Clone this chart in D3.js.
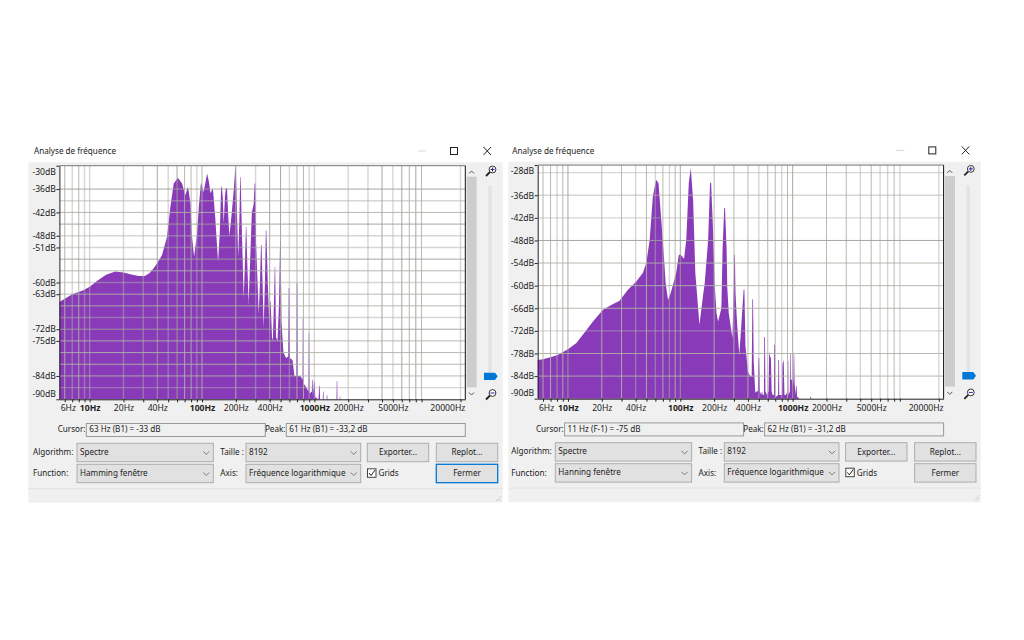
<!DOCTYPE html>
<html>
<head>
<meta charset="utf-8">
<title>Analyse de fréquence</title>
<script src="https://cdn.jsdelivr.net/npm/d3@7"></script>
<style>
  body { margin: 0; background: #fff; }
  text { font-family: "Noto Sans", sans-serif; font-size: 8.15px; fill: #222; }
  .axis path, .axis line { stroke: #222; }
</style>
</head>
<body>
<div id="chart"></div>
<script>
// Spectres : [Hz, dB]
const leftSpectrum = [
  [5.38,-65],[7,-63],[8.8,-62],[10,-61.1],[11.6,-59.6],[14,-58],[16.9,-57.2],[20,-57.4],[24,-58],[27.3,-58.3],
  [31,-58.3],[34,-57.6],[37,-56.4],[40,-55],[44,-53],[46,-51],[48.8,-48.3],[52.3,-40.6],[56,-34.6],[61,-33.1],
  [66.5,-34.6],[71,-37.6],[75,-35.4],[79,-39.7],[81,-47.4],[85,-53.4],[90,-48],[94,-40],[98,-34.2],[103,-36.8],
  [107,-34.5],[111,-32],[115,-34],[119,-37.1],[125,-35.8],[131,-43.1],[135,-49],[139,-54.7],[144,-47],[148,-35.4],[150,-35.4],
  [153,-38],[156,-44.8],[160,-38],[163,-35.8],[167,-35.8],[170,-41],[175,-48],[180,-45],[185,-41.4],[192,-36],[198,-30.3],[200,-30.3],
  [204,-40],[210,-53.4],[215,-44],[219,-32.9],[221,-32.9],[226,-46],[235,-64],[241,-55],[246,-45.7],[248,-45.7],[253,-55],[260,-65.5],
  [270,-52],[278,-41.8],[288,-40],[294,-34.6],[298,-34.6],[303,-50],[320,-68],[328,-60],[335,-50.4],[339,-50.4],[346,-60],[354,-71.7],
  [363,-60],[370,-46.6],[374,-46.6],[385,-60],[400,-73],[404,-64.9],[408,-64.9],[420,-74],[427,-75],[436,-66],[444,-56],[448,-56],[456,-74],
  [470,-75],[485,-65],[495,-49.4],[501,-49.4],[510,-70],[530,-78],[560,-79.4],[585,-79],[591,-61.4],[599,-61.4],[606,-79.4],[640,-80],[665,-84],
  [690,-84],[696,-60.2],[706,-60.2],[712,-84],[750,-84],[785,-85],[789,-69.1],[797,-69.1],[802,-86],[850,-87],[885,-88],[891,-73],[901,-73],
  [907,-88.5],[950,-88],[955,-85],[965,-85],[970,-89],[995,-85.4],[1005,-85.4],[1020,-89.5],[1090,-90],[1102,-86.5],[1114,-86.5],[1125,-90],[1190,-90],
  [1194,-88],[1206,-88],[1212,-90],[1285,-90],[1290,-88.9],[1302,-88.9],[1308,-90],[1575,-90],[1582,-85.3],[1598,-85.3],[1605,-90],[1680,-90],[1686,-89.3],[1698,-89.3],
  [1704,-90],[22050,-90]
];
const rightSpectrum = [
  [5.38,-79.7],[6,-79.5],[7.1,-78.9],[8.1,-78.4],[10,-76.9],[11.9,-75.2],[14,-72.5],[16.7,-69.5],[20.5,-66.4],[24.3,-65.1],
  [28.8,-64],[34.2,-61.1],[40.6,-58.9],[46.5,-56.6],[49.8,-54],[53.4,-47.8],[57,-36.3],[61,-31.9],[64,-32.8],[67.7,-42.5],
  [71.5,-52.3],[74,-59.3],[77.7,-63.8],[82,-62],[86,-59.8],[92,-56.6],[97,-51.8],[101,-51.8],[108,-52.9],[113,-47.8],
  [119,-32.7],[124,-28.8],[130,-37.2],[136,-56.6],[148,-70.4],[159,-62.9],[165,-59.3],[177,-47.8],[184,-32.7],[188,-32.7],[195,-44.3],
  [202,-59.3],[210,-67.3],[217,-69.5],[232,-66],[238,-50],[246,-39.4],[250,-39.4],[258,-50],[262,-60.6],[270,-67.3],[291,-73.9],
  [299,-60],[302,-51.8],[306,-51.8],[310,-62],[320,-70],[335,-78.4],[350,-70],[366,-61.1],[372,-61.1],[380,-76],[400,-82.8],[420,-84.1],
  [432,-84],[438,-63.6],[444,-63.6],[450,-80],[465,-88.4],[480,-88],[490,-88],[496,-79.2],[504,-79.2],[510,-88],[525,-89],[533,-88],
  [543,-89],[555,-89],[559,-73.6],[567,-73.6],[572,-88],[590,-89],[610,-88],[618,-77.5],[631,-79],[640,-79],[650,-88],
  [663,-89],[681,-89],[686,-75.7],[696,-75.7],[700,-89],[710,-89.5],[742,-89],[746,-79.7],[756,-79.7],[760,-89],[787,-89],[806,-89],
  [811,-81],[832,-79.7],[845,-89],[870,-89],[900,-88],[904,-80],[914,-80],[918,-89],[945,-88],[948,-78.1],[958,-78.1],[962,-85],
  [990,-85],[1000,-87],[1015,-85],[1022,-78.1],[1032,-78.1],[1040,-86],[1065,-89],[1072,-86.6],[1084,-86.6],[1095,-89.5],[1131,-89.8],[1160,-90],
  [1430,-90],[1440,-89.5],[1455,-89.5],[1465,-90],[22050,-90]
];

// Axes
const xTicks = [6, 10, 20, 40, 100, 200, 400, 1000, 2000, 5000, 20000];
const boldHz = [10, 100, 1000];
const gridHz = [6,7,8,9,10,20,30,40,50,60,70,80,90,100,200,300,400,500,600,700,800,900,
  1000,2000,3000,4000,5000,6000,7000,8000,9000,20000];
const leftDbTicks = [-30,-36,-42,-48,-51,-60,-63,-72,-75,-84,-90];
const rightDbTicks = [-28,-36,-42,-48,-54,-60,-66,-72,-78,-84,-90];
const leftGridDb = [-36,-39,-42,-45,-48,-51,-54,-57,-60,-63,-66,-69,-72,-75,-78,-81,-84,-87];
const rightGridDb = [-30,-36,-42,-48,-54,-60,-66,-72,-78,-84];

// Intensité des lignes de grille (le reste est moyen)
const leftDarkHz = [40,60,400,500,4000,6000,8000];
const leftLightHz = [7,9,10,20,30,50,90,300,600,900,1000,2000,3000,5000,20000];
const rightDarkHz = [10,100,1000];
const rightLightHz = [8,40,60,80,500,800,4000,6000,7000,9000,20000];
const leftDarkDb = [-36,-45,-54,-72];
const leftLightDb = [-39,-48,-51,-60,-69,-87];
const rightDarkDb = [-48];
const rightLightDb = [-30,-36,-42,-72];

const svg = d3.select("#chart").append("svg").attr("width", 1024).attr("height", 640).style("display", "block");

function label(g, x, y, str, anchor, weight) {
  return g.append("text").attr("x", x).attr("y", y).attr("dy", "0.35em")
    .attr("text-anchor", anchor || "start").attr("font-weight", weight || null).text(str);
}

function combo(g, x0, x1, y0, y1, str) {
  g.append("rect").attr("x", x0).attr("y", y0).attr("width", x1 - x0).attr("height", y1 - y0)
    .attr("fill", "#e1e1e1").attr("stroke", "#adadad");
  label(g, x0 + 3, (y0 + y1) / 2 - 0.5, str);
  const cx = x1 - 7, cy = (y0 + y1) / 2 + 0.5;
  g.append("path").attr("d", `M${cx - 3},${cy - 1.5}L${cx},${cy + 1.5}L${cx + 3},${cy - 1.5}`)
    .attr("fill", "none").attr("stroke", "#777");
}

function button(g, x0, x1, y0, y1, str, focused) {
  g.append("rect").attr("x", x0).attr("y", y0).attr("width", x1 - x0).attr("height", y1 - y0)
    .attr("fill", "#e1e1e1").attr("stroke", focused ? "#0078d7" : "#adadad").attr("stroke-width", focused ? 1.3 : 1);
  label(g, (x0 + x1) / 2, (y0 + y1) / 2, str, "middle");
}

function readout(g, x0, x1, str) {
  g.append("rect").attr("x", x0).attr("y", 423.5).attr("width", x1 - x0).attr("height", 13)
    .attr("fill", "#f0f0f0").attr("stroke", "#9a9a9a");
  label(g, x0 + 3, 429.5, str);
}

function magnifier(g, cx, cy, plus) {
  g.append("path").attr("d", `M${cx - 5},${cy + 5}L${cx - 1},${cy + 1}`).attr("stroke", "#222").attr("stroke-width", 1.8);
  g.append("circle").attr("cx", cx + 1.5).attr("cy", cy - 1.5).attr("r", 3.4)
    .attr("fill", "#fff").attr("stroke", "#333");
  g.append("path").attr("d", plus
      ? `M${cx - 0.5},${cy - 1.5}h4M${cx + 1.5},${cy - 3.5}v4`
      : `M${cx - 0.5},${cy - 1.5}h4`)
    .attr("stroke", "#2222aa").attr("stroke-width", 1);
}

function drawPanel(cfg) {
  const g = svg.append("g").attr("transform", `translate(${cfg.dx},${cfg.dy})`);

  // Fenêtre
  g.append("rect").attr("x", cfg.winX0).attr("y", 162.3).attr("width", cfg.winX1 - cfg.winX0).attr("height", 340.5).attr("fill", "#f0f0f0");
  label(g, 34, 151.3, "Analyse de fréquence");
  g.append("line").attr("x1", 418).attr("x2", 426).attr("y1", 151).attr("y2", 151).attr("stroke", "#d8d8d8");
  g.append("rect").attr("x", 450.5).attr("y", 147.5).attr("width", 7).attr("height", 7).attr("fill", "none").attr("stroke", "#222");
  g.append("path").attr("d", "M483.5,147L491,155M491,147L483.5,155").attr("stroke", "#222").attr("fill", "none");

  // Zone du tracé
  const x = d3.scaleLog().domain([5.38, 22050]).range([59.4, 465.3]);
  const y = d3.scaleLinear().domain(cfg.dbDomain).range([165.7, 399.3]);

  g.append("rect").attr("x", 59.4).attr("y", 165.7).attr("width", 405.9).attr("height", 233.6).attr("fill", "#fff");

  const area = d3.area().x((d) => x(d[0])).y0(y(cfg.dbDomain[1])).y1((d) => y(d[1]));
  g.append("path").datum(cfg.spectrum).attr("d", area).attr("fill", "#893ab8");

  // Grille par-dessus le spectre : les lignes claires laissent voir le violet
  function shade(v, dark, light) {
    return dark.includes(v) ? "#9c9f98" : light.includes(v) ? "#aeb0aa" : "#aeb1a6";
  }
  function fade(v, light) {
    return light.includes(v) ? 0.5 : 0.9;
  }
  g.selectAll(".vgrid").data(gridHz).enter().append("line").attr("class", "vgrid")
    .attr("x1", (d) => x(d)).attr("x2", (d) => x(d)).attr("y1", 165.7).attr("y2", 399.3)
    .attr("stroke", (d) => shade(d, cfg.darkHz, cfg.lightHz))
    .attr("stroke-opacity", (d) => fade(d, cfg.lightHz))
    .attr("stroke-width", (d) => (cfg.lightHz.includes(d) ? 1.4 : 1));
  g.selectAll(".hgrid").data(cfg.gridDb).enter().append("line").attr("class", "hgrid")
    .attr("x1", 59.4).attr("x2", 465.3).attr("y1", (d) => y(d)).attr("y2", (d) => y(d))
    .attr("stroke", (d) => shade(d, cfg.darkDb, cfg.lightDb))
    .attr("stroke-opacity", (d) => fade(d, cfg.lightDb))
    .attr("stroke-width", (d) => (cfg.lightDb.includes(d) ? 1.4 : 1));

  // Cadre
  g.append("line").attr("x1", 59.4).attr("x2", 465.3).attr("y1", 165.7).attr("y2", 165.7).attr("stroke", "#777");
  g.append("line").attr("x1", 465.3).attr("x2", 465.3).attr("y1", 165.7).attr("y2", 399.3).attr("stroke", "#111");

  // Axe X
  const xAxis = g.append("g").attr("class", "axis").attr("transform", "translate(0,399.3)")
    .call(d3.axisBottom(x).tickValues(gridHz.concat([])).tickSize(3).tickSizeOuter(0)
      .tickFormat((d) => (xTicks.includes(d) ? d + "Hz" : "")));
  xAxis.select(".domain").attr("stroke", "#111");
  xAxis.selectAll("text").attr("y", 9.5).attr("dy", "0")
    .style("font-size", "8.6px").style("font-family", '"Noto Sans", sans-serif').attr("fill", "#222")
    .attr("font-weight", (d) => (boldHz.includes(d) ? "bold" : null))
    .attr("text-anchor", (d) => (d === 20000 ? "end" : d === 6 ? "start" : "middle"))
    .attr("dx", (d) => (d === 20000 ? 4.3 : d === 6 ? -4.6 : 0))
    .attr("dominant-baseline", "middle");

  // Axe Y : premier et dernier libellés décalés vers l'intérieur
  const yAxis = g.append("g").attr("class", "axis").attr("transform", "translate(59.4,0)")
    .call(d3.axisLeft(y).tickValues(cfg.dbTicks).tickSize(3).tickSizeOuter(0).tickFormat((d) => d + "dB"));
  yAxis.select(".domain").attr("stroke", "#111");
  yAxis.selectAll("text")
    .style("font-size", "8.6px").style("font-family", '"Noto Sans", sans-serif').attr("fill", "#222")
    .attr("x", -3.5)
    .attr("transform", (d) => (d === cfg.dbDomain[0] ? "translate(0,6)" : d === cfg.dbDomain[1] ? "translate(0,-5.6)" : null));

  // Barre de défilement et zoom
  g.append("rect").attr("x", 466.7).attr("y", 176.7).attr("width", 10).attr("height", 210.6).attr("fill", "#cdcdcd");
  g.append("path").attr("d", "M469,173.5L471.5,171L474,173.5").attr("fill", "none").attr("stroke", "#555");
  g.append("path").attr("d", "M469,392.5L471.5,395L474,392.5").attr("fill", "none").attr("stroke", "#555");
  g.append("rect").attr("x", 488.3).attr("y", 186).attr("width", 3.4).attr("height", 190).attr("fill", "#e3e3e3");
  g.append("path").attr("d", "M484,372.7H495L497.7,376.3L495,380H484Z").attr("fill", "#0078d7");
  magnifier(g, 491, 171, true);
  magnifier(g, 491, 394.5, false);

  // Contrôles
  label(g, 85.5, 429.5, "Cursor:", "end");
  readout(g, 86.3, 265.3, cfg.cursor);
  label(g, 285.5, 429.5, "Peak:", "end");
  readout(g, 286.3, 465.3, cfg.peak);

  label(g, 33, 452, "Algorithm:");
  combo(g, 77, 213.3, 443.3, 461.7, "Spectre");
  label(g, 33, 473.5, "Function:");
  combo(g, 77, 213.3, 464.3, 482.7, cfg.windowName);
  label(g, 220.3, 452, "Taille :");
  combo(g, 246, 360.7, 443.3, 461.7, "8192");
  label(g, 220.3, 473.5, "Axis:");
  combo(g, 246, 360.7, 464.3, 482.7, "Fréquence logarithmique");
  button(g, 367.3, 428.7, 443.3, 461.7, "Exporter...");
  button(g, 436.3, 497.7, 443.3, 461.7, "Replot...");
  button(g, 436.3, 497.7, 464.3, 482.7, "Fermer", cfg.focused);

  g.append("rect").attr("x", 367.5).attr("y", 468.8).attr("width", 8.5).attr("height", 8.5).attr("fill", "#fff").attr("stroke", "#444");
  g.append("path").attr("d", "M369,473L371,475.5L375,470").attr("fill", "none").attr("stroke", "#222");
  label(g, 378.5, 473.5, "Grids");

  g.append("line").attr("x1", cfg.winX0).attr("x2", cfg.winX1).attr("y1", 488.7).attr("y2", 488.7).attr("stroke", "#e2e2e2");
  g.append("path").attr("d", "M496,501L501,496M498.5,501L501,498.5").attr("stroke", "#b5b5b5").attr("stroke-dasharray", "1,1");
}

drawPanel({
  dx: 0, dy: 0, winX0: 28.3, winX1: 502.7,
  spectrum: leftSpectrum, dbDomain: [-30, -90], dbTicks: leftDbTicks, gridDb: leftGridDb,
  darkHz: leftDarkHz, lightHz: leftLightHz, darkDb: leftDarkDb, lightDb: leftLightDb,
  cursor: "63 Hz (B1) = -33 dB", peak: "61 Hz (B1) = -33,2 dB", windowName: "Hamming fenêtre", focused: true
});

drawPanel({
  dx: 478.3, dy: -0.6, winX0: 30, winX1: 502.4,
  spectrum: rightSpectrum, dbDomain: [-28, -90], dbTicks: rightDbTicks, gridDb: rightGridDb,
  darkHz: rightDarkHz, lightHz: rightLightHz, darkDb: rightDarkDb, lightDb: rightLightDb,
  cursor: "11 Hz (F-1) = -75 dB", peak: "62 Hz (B1) = -31,2 dB", windowName: "Hanning fenêtre", focused: false
});
</script>
</body>
</html>
